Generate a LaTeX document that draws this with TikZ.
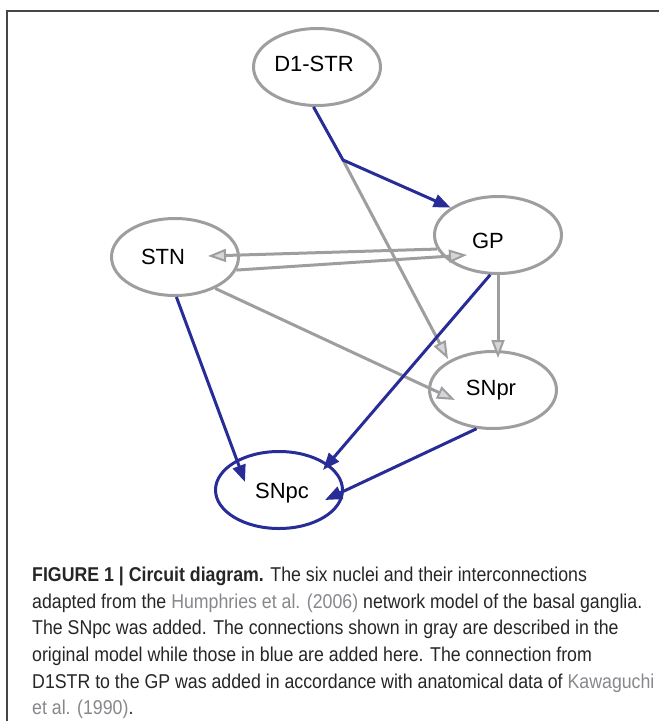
\documentclass[tikz,border=0pt]{standalone}
\usepackage{fontspec}
\setmainfont{Liberation Sans}
\newfontfamily\legendafont[FakeStretch=0.887]{Liberation Sans}
\usetikzlibrary{shapes, arrows.meta}

\definecolor{azul}{RGB}{40,44,150}
\definecolor{cinza}{RGB}{158,158,160}
\definecolor{cinzaclaro}{RGB}{214,214,216}
\definecolor{moldura}{RGB}{70,70,70}
\definecolor{citacao}{RGB}{135,135,140}
\definecolor{texto}{RGB}{38,38,38}

\tikzstyle{nucleo} = [ellipse, draw=cinza, line width=3pt, minimum width=127pt, minimum height=77pt, inner sep=0pt]
\tikzstyle{nucleoazul} = [nucleo, draw=azul]
\tikzstyle{rotulo} = [inner sep=0pt, font=\fontsize{22}{22}\selectfont]
\tikzstyle{cinzacon} = [draw=cinza, line width=3pt, -{Triangle[length=18pt, width=13pt, fill=cinzaclaro, line width=2pt]}]
\tikzstyle{azulcon} = [draw=azul, line width=3pt, -{Triangle[length=17pt, width=13pt]}]
\tikzstyle{legenda} = [anchor=north west, inner sep=0pt, align=left, text=texto, font=\legendafont\fontsize{20}{26.6}\selectfont]

\begin{document}
\begin{tikzpicture}[x=1pt, y=-1pt] %coordenadas em pixels da figura original, y para baixo

\useasboundingbox (0,0) rectangle (659,721);
\draw [moldura, line width=1.5pt] (659,11) -- (7,11) -- (7,721);
%moldura da figura, cortada a direita e embaixo

%---------------------------------------------
%Os cinco nucleos do circuito (elipses)
%---------------------------------------------

\node [nucleo] (d1str) at (317,67) {};
%estriado D1, no topo

\node [nucleo] (gp) at (498,235) {};
%globo palido, a direita

\node [nucleo] (stn) at (175,257) {};
%nucleo subtalamico, a esquerda

\node [nucleo] (snpr) at (493,390) {};
%substancia negra reticulada

\node [nucleoazul] (snpc) at (279,490) {};
%substancia negra compacta, acrescentada (em azul)

\coordinate (bifurca) at (343,160);
%ponto onde a saida do D1-STR se divide

%---------------------------------------------
%Nomes dos nucleos, um pouco fora do centro como no original
%---------------------------------------------
\node [rotulo] (d1strnome) at (314,64) {D1-STR};
\node [rotulo] (gpnome) at (488,241) {GP};
\node [rotulo] (stnnome) at (163,257) {STN};
\node [rotulo] (snprnome) at (491,390) {SNpr};
\node [rotulo] (snpcnome) at (282,493) {SNpc};

%---------------------------------------------
%Legenda da figura
%---------------------------------------------
\node [legenda] (texto) at (32,567) {\textbf{FIGURE 1 | Circuit diagram.} The six nuclei and their interconnections\\
adapted from the \textcolor{citacao}{Humphries et al. (2006)} network model of the basal ganglia.\\
The SNpc was added. The connections shown in gray are described in the\\
original model while those in blue are added here. The connection from\\
D1STR to the GP was added in accordance with anatomical data of \textcolor{citacao}{Kawaguchi}\\
\textcolor{citacao}{et al. (1990)}.};

%---------------------------------------------
%Conexoes do modelo original (cinza)
%---------------------------------------------
\path [cinzacon] (gp.193) -- ([xshift=33pt, yshift=1pt]stn.center);
\path [cinzacon] (stn.348) -- ([xshift=-31pt, yshift=-20pt]gp.center);
\path [cinzacon] (gp.south) -- ([xshift=5pt, yshift=32pt]snpr.center);
\path [cinzacon] (bifurca) -- ([xshift=-45pt, yshift=31pt]snpr.center);
\path [cinzacon] (stn.322) -- ([xshift=-38pt, yshift=-10pt]snpr.center);

%---------------------------------------------
%Conexoes acrescentadas (azul)
%---------------------------------------------
\path [azulcon] (d1str.265) -- (bifurca) -- (gp.150);
\path [azulcon] (stn.272) -- ([xshift=-34pt, yshift=8pt]snpc.center);
\path [azulcon] (gp.259) -- ([xshift=44pt, yshift=20pt]snpc.center);
\path [azulcon] (snpr.247) -- ([xshift=46pt, yshift=-10pt]snpc.center);

\end{tikzpicture}
\end{document}
